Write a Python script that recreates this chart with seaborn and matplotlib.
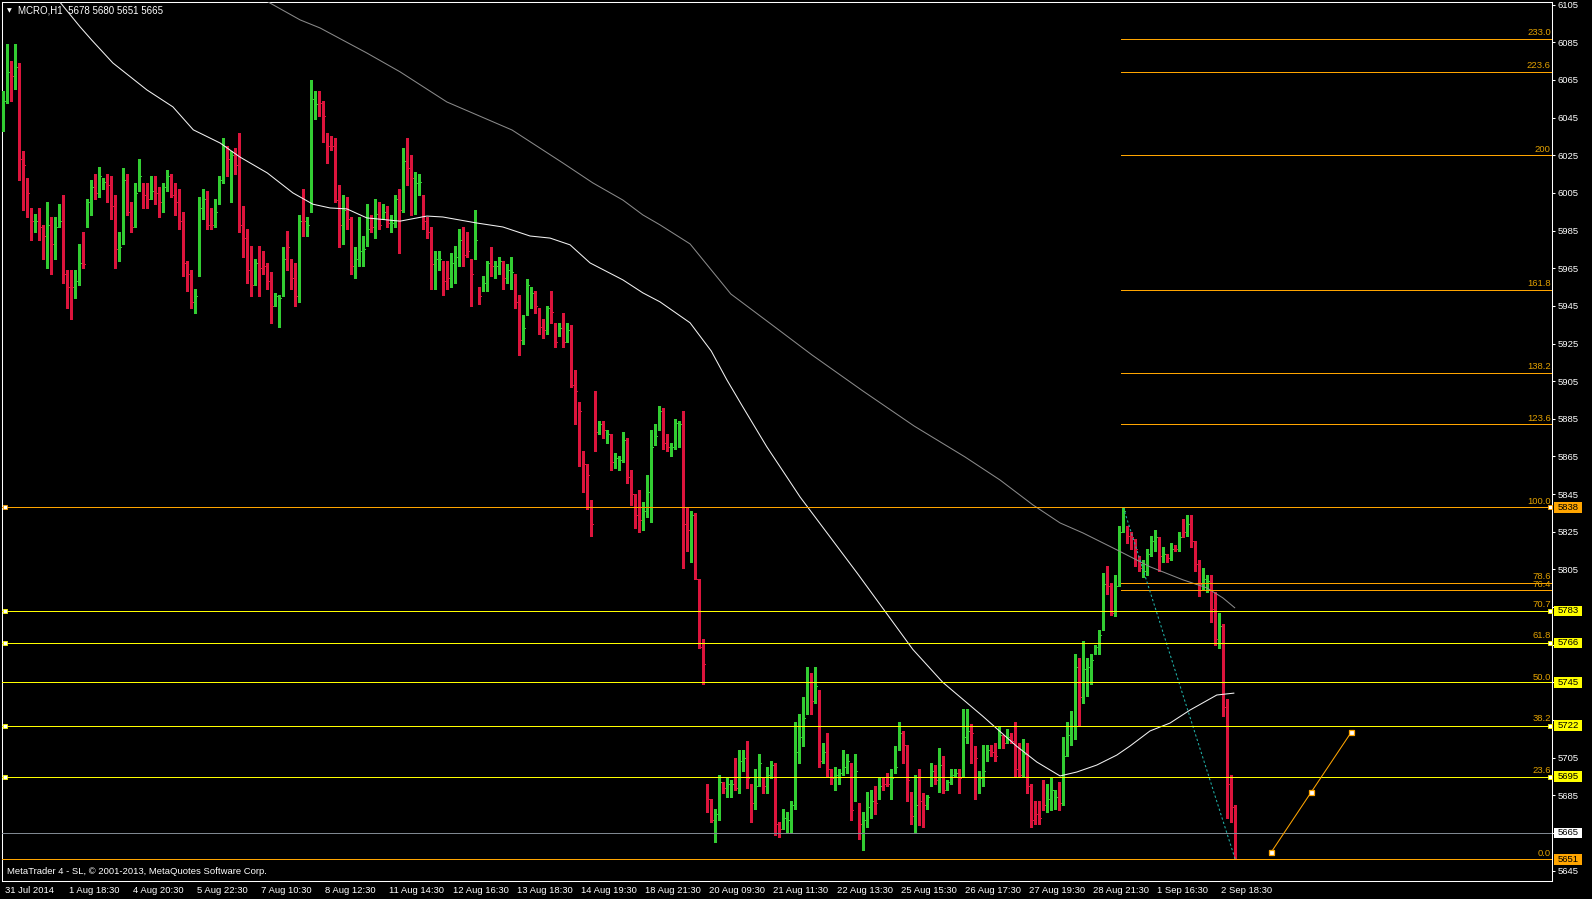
import numpy as np
import pandas as pd
import matplotlib
matplotlib.use("Agg")
import matplotlib.pyplot as plt
import matplotlib.transforms as mtransforms
from matplotlib.patches import Rectangle
import seaborn as sns

# ---------------- data (MCRO, H1) ----------------
opens = [6042,6054,6070,6067,6072,6024,6008,5994,5987,5990,
         5985,5982,5988,5976,5988,5992,5962,5958,5952,5958,
         5970,5987,5998,6008,6004,6008,6011,6009,5997,5972,
         5978,6012,5995,5988,6006,6008,6004,6003,6007,6005,
         5997,6008,6014,6006,6001,5990,5968,5960,5947,5962,
         5997,6003,5993,5988,5999,6012,6027,6016,6025,6022,
         5988,5982,5964,5957,5968,5970,5965,5958,5946,5940,
         5951,5980,5968,5962,5952,5994,5986,5995,6048,6057,
         6050,6035,6032,6029,5998,5985,5999,5990,5964,5970,
         5973,5978,5990,5988,5994,5992,5994,5986,5989,6002,
         5995,6025,6018,5997,6009,6000,5989,5984,5958,5966,
         5968,5966,5958,5962,5970,5982,5980,5969,5970,5954,
         5954,5956,5969,5963,5964,5966,5959,5960,5962,5948,
         5927,5941,5948,5948,5943,5936,5932,5945,5934,5930,
         5935,5928,5934,5905,5891,5863,5857,5840,5896,5879,
         5882,5876,5874,5861,5860,5864,5872,5856,5843,5840,
         5829,5836,5845,5872,5880,5889,5874,5868,5870,5880,
         5883,5829,5817,5833,5800,5764,5689,5682,5672,5675,
         5691,5689,5690,5694,5688,5700,5707,5684,5681,5692,
         5693,5688,5697,5700,5670,5668,5667,5672,5680,5707,
         5716,5729,5747,5735,5740,5705,5712,5697,5693,5694,
         5698,5699,5699,5684,5680,5668,5670,5679,5688,5684,
         5693,5696,5690,5698,5710,5717,5711,5684,5673,5688,
         5684,5679,5691,5697,5692,5703,5689,5692,5696,5697,
         5695,5716,5720,5708,5689,5692,5704,5710,5710,5711,
         5716,5714,5717,5716,5709,5697,5711,5689,5680,5680,
         5690,5680,5682,5681,5688,5681,5708,5713,5722,5752,
         5738,5742,5748,5761,5762,5773,5798,5796,5782,5796,
         5825,5827,5824,5820,5810,5802,5803,5813,5818,5820,
         5810,5812,5811,5817,5816,5828,5824,5831,5817,5806,
         5795,5797,5800,5786,5764,5774,5734,5690,5678]
highs = [6059,6084,6075,6084,6074,6027,6013,5997,5994,5997,
         5988,6000,5992,5992,5999,6004,5964,5964,5964,5978,
         5984,6002,6012,6015,6019,6013,6015,6014,6004,5984,
         6018,6015,6000,6010,6023,6010,6010,6014,6014,6008,
         6010,6017,6015,6010,6007,5995,5969,5964,5954,6003,
         6007,6006,5997,6002,6014,6034,6030,6027,6029,6037,
         5998,5986,5977,5970,5977,5974,5968,5963,5952,5951,
         5976,5985,5970,5968,5993,6007,5992,6065,6059,6059,
         6054,6037,6035,6034,6009,6004,6003,5992,5976,5992,
         5982,5999,5993,6002,6000,5999,5998,5993,6004,6007,
         6029,6034,6025,6016,6015,6004,5992,5987,5974,5974,
         5969,5969,5973,5977,5986,5987,5984,5970,5996,5955,
         5961,5969,5976,5969,5971,5969,5967,5971,5962,5951,
         5940,5959,5955,5953,5944,5938,5945,5953,5936,5936,
         5941,5936,5935,5911,5894,5868,5861,5842,5900,5884,
         5884,5879,5877,5867,5865,5878,5875,5858,5845,5847,
         5841,5855,5879,5882,5892,5891,5877,5872,5885,5884,
         5889,5838,5836,5835,5800,5768,5691,5683,5678,5696,
         5692,5694,5693,5705,5709,5709,5714,5691,5699,5707,
         5695,5700,5703,5702,5671,5678,5676,5682,5724,5728,
         5737,5753,5750,5753,5741,5713,5718,5699,5700,5699,
         5709,5707,5702,5707,5681,5676,5687,5688,5690,5695,
         5695,5697,5699,5711,5724,5719,5712,5687,5696,5699,
         5686,5685,5702,5701,5710,5706,5693,5699,5699,5699,
         5731,5731,5723,5711,5698,5712,5712,5712,5713,5722,
         5717,5720,5718,5724,5713,5715,5713,5691,5682,5682,
         5693,5691,5694,5688,5692,5716,5724,5730,5760,5758,
         5767,5758,5760,5765,5773,5803,5807,5798,5802,5828,
         5838,5828,5825,5821,5812,5810,5816,5823,5826,5822,
         5817,5813,5819,5818,5825,5832,5834,5834,5820,5810,
         5806,5802,5802,5793,5782,5776,5736,5696,5680]
lows = [6038,6053,6054,6060,6012,5996,5992,5980,5984,5980,
        5970,5965,5962,5970,5987,5957,5944,5938,5949,5956,
        5965,5987,5993,6002,6003,6007,6000,5991,5965,5969,
        5978,5993,5984,5987,6006,5997,5997,6002,5999,5992,
        5995,6006,6003,5993,5986,5961,5953,5944,5941,5961,
        5991,5986,5986,5987,5999,6010,6014,6000,6015,5984,
        5971,5957,5950,5956,5950,5962,5954,5936,5945,5934,
        5950,5964,5954,5945,5947,5982,5982,5995,6044,6046,
        6032,6021,6028,6000,5976,5978,5986,5962,5960,5966,
        5966,5977,5984,5981,5986,5991,5987,5984,5987,5973,
        5995,6009,5993,5994,6004,5986,5981,5954,5954,5964,
        5951,5954,5955,5957,5966,5966,5971,5945,5970,5946,
        5953,5953,5961,5960,5962,5954,5957,5954,5944,5919,
        5925,5940,5944,5941,5930,5928,5930,5936,5923,5929,
        5923,5926,5902,5882,5860,5846,5837,5823,5868,5877,
        5875,5872,5858,5859,5858,5862,5851,5839,5827,5825,
        5826,5833,5830,5871,5879,5869,5868,5865,5869,5870,
        5806,5815,5809,5800,5763,5744,5676,5671,5660,5672,
        5686,5684,5684,5688,5686,5698,5689,5671,5678,5690,
        5686,5686,5694,5664,5663,5667,5665,5665,5678,5702,
        5711,5728,5728,5734,5700,5702,5695,5691,5688,5691,
        5696,5697,5672,5682,5662,5656,5668,5673,5675,5683,
        5688,5690,5683,5697,5709,5702,5682,5670,5665,5669,
        5668,5678,5690,5691,5687,5686,5688,5691,5695,5686,
        5695,5713,5702,5683,5686,5690,5703,5706,5703,5710,
        5710,5713,5713,5695,5695,5695,5686,5668,5670,5670,
        5677,5676,5677,5678,5677,5680,5706,5712,5715,5722,
        5734,5738,5744,5760,5760,5773,5792,5781,5780,5796,
        5825,5819,5816,5807,5804,5801,5802,5812,5815,5804,
        5809,5809,5810,5815,5815,5822,5823,5817,5804,5791,
        5794,5793,5777,5765,5763,5727,5673,5671,5651]
closes = [6054,6069,6067,6072,6023,6020,6005,5990,5990,5987,
          5982,5988,5978,5987,5990,5962,5955,5955,5958,5968,
          5967,6000,6008,6005,6014,6011,6009,5998,5975,5976,
          6012,5995,5987,6005,6014,6004,6002,6006,6005,6000,
          6008,6014,6004,6000,5990,5968,5962,5947,5950,5997,
          6002,5988,5988,5995,6012,6030,6023,6025,6020,5988,
          5981,5964,5956,5968,5965,5966,5958,5945,5950,5949,
          5970,5976,5960,5950,5990,5990,5988,6055,6052,6053,
          6046,6030,6030,6001,5988,5996,5991,5966,5970,5974,
          5975,5986,5987,5994,5988,5995,5989,5989,6002,5996,
          6022,6018,6013,6010,6011,5990,5984,5967,5970,5970,
          5958,5960,5968,5971,5980,5972,5974,5962,5980,5950,
          5957,5968,5966,5966,5969,5960,5964,5963,5947,5927,
          5933,5956,5952,5945,5934,5932,5944,5942,5926,5933,
          5926,5932,5903,5900,5889,5861,5855,5829,5878,5882,
          5879,5877,5862,5864,5863,5874,5854,5845,5834,5831,
          5836,5846,5870,5876,5889,5872,5870,5870,5883,5882,
          5829,5826,5834,5800,5764,5755,5683,5672,5675,5692,
          5689,5691,5691,5689,5703,5705,5694,5681,5690,5702,
          5690,5696,5701,5670,5667,5673,5672,5680,5708,5716,
          5726,5745,5735,5743,5703,5708,5699,5694,5696,5697,
          5700,5703,5677,5698,5670,5672,5679,5682,5681,5690,
          5691,5691,5694,5700,5718,5712,5693,5674,5680,5682,
          5680,5684,5698,5693,5701,5688,5692,5696,5697,5694,
          5716,5719,5718,5705,5694,5698,5709,5708,5706,5717,
          5713,5716,5714,5699,5696,5707,5690,5672,5675,5673,
          5680,5683,5688,5684,5681,5706,5717,5722,5753,5737,
          5752,5753,5757,5764,5770,5797,5796,5782,5796,5825,
          5836,5823,5822,5816,5806,5804,5813,5820,5822,5812,
          5813,5811,5816,5816,5822,5825,5829,5820,5808,5797,
          5800,5799,5784,5768,5775,5732,5691,5679,5665]

# moving averages (bar index, price)
ma_fast_bar = [13.7, 19.2, 22.1, 27.4, 35.9, 42.4, 47.5, 54.2, 59.2, 66.0,
               72.4, 77.4, 81.7, 85.9, 90.9, 99.2, 105.9, 109.9, 118.4, 124.9,
               131.7, 136.7, 141.7, 146.7, 154.9, 159.9, 164.2, 171.7, 177.0, 180.9,
               184.9, 190.9, 195.9, 199.2, 213.5, 227.4, 234.9, 244.9, 253.4, 258.4,
               264.2, 268.4, 273.4, 278.4, 281.7, 286.7, 291.7, 296.7, 303.4, 307.7]
ma_fast_price = [6107.5, 6093.2, 6086.2, 6074.0, 6059.7, 6050.7, 6038.5, 6031.5, 6024.0, 6015.6,
                 6005.0, 5999.0, 5997.0, 5996.5, 5991.7, 5990.0, 5992.7, 5992.2, 5989.0, 5986.9,
                 5982.1, 5981.0, 5977.4, 5967.8, 5958.8, 5951.9, 5947.1, 5936.0, 5921.0, 5905.7,
                 5891.3, 5870.1, 5854.1, 5843.5, 5803.0, 5762.5, 5745.0, 5727.0, 5711.0, 5702.7,
                 5695.3, 5697.4, 5701.1, 5706.4, 5711.2, 5719.2, 5723.4, 5730.3, 5738.3, 5739.3]
ma_slow_bar = [66.2, 74.2, 79.2, 90.9, 99.2, 110.9, 127.2, 139.9, 147.4, 154.9,
               159.9, 164.2, 171.7, 181.9, 192.2, 202.2, 214.9, 227.7, 240.4, 249.2,
               257.4, 264.2, 269.9, 278.4, 286.7, 294.9, 300.9, 304.9, 307.9]
ma_slow_price = [6106.4, 6096.9, 6092.6, 6079.3, 6069.3, 6053.3, 6038.4, 6020.9, 6010.3, 6001.2,
                 5993.3, 5988.0, 5977.9, 5951.3, 5934.9, 5918.9, 5899.8, 5881.2, 5864.8, 5852.5,
                 5839.3, 5829.7, 5824.4, 5815.4, 5806.4, 5799.5, 5795.2, 5789.9, 5784.6]

x_tick_bars = [0, 16, 32, 48, 64, 80, 96, 112, 128, 144,
               160, 176, 192, 208, 224, 240, 256, 272, 288, 304]
x_tick_labels = ["31 Jul 2014", "1 Aug 18:30", "4 Aug 20:30", "5 Aug 22:30", "7 Aug 10:30",
                 "8 Aug 12:30", "11 Aug 14:30", "12 Aug 16:30", "13 Aug 18:30", "14 Aug 19:30",
                 "18 Aug 21:30", "20 Aug 09:30", "21 Aug 11:30", "22 Aug 13:30", "25 Aug 15:30",
                 "26 Aug 17:30", "27 Aug 19:30", "28 Aug 21:30", "1 Sep 16:30", "2 Sep 18:30"]
y_ticks = list(range(5645, 6106, 20))
y_ticks_hidden = [5785, 5765, 5725, 5665]   # covered by the price boxes

fib_low, fib_high = 5651, 5838
fib_bars = [280, 308]
fib_levels = [0.0, 23.6, 38.2, 50.0, 61.8, 70.7, 76.4, 78.6, 100.0, 123.6, 138.2, 161.8, 200.0, 223.6, 233.0]
fib_texts = ["0.0", "23.6", "38.2", "50.0", "61.8", "70.7", "76.4", "78.6", "100.0",
             "123.6", "138.2", "161.8", "200", "223.6", "233.0"]

yellow_lines = [5783, 5766, 5745, 5722, 5695]
yellow_marked = [True, True, False, True, True]
orange_lines = [5838, 5651]
orange_marked = [True, False]
trend_bars = [317, 327, 337]
trend_prices = [5654.8, 5686.7, 5718.5]

title_text = "MCRO,H1  5678 5680 5651 5665"
footer_text = "MetaTrader 4 - SL, \u00a9 2001-2013, MetaQuotes Software Corp."

# ---------------- style ----------------
sns.set_style("dark", {"axes.facecolor": "black", "figure.facecolor": "black"})
plt.rcParams['font.family'] = ['Liberation Sans', 'DejaVu Sans']

GREEN = '#32CD32'
RED = '#DC143C'
ORANGE = '#FFA500'
YELLOW = '#FFFF00'
FIBTXT = '#E1A000'
FS = 6.8
LW = 0.75      # vertical bar strokes
LWH = 0.55     # crisp 1 px horizontal lines

W, H = 1592, 899
fig = plt.figure(figsize=(W / 100, H / 100), dpi=100, facecolor='black')
ax = fig.add_axes([2 / W, 18 / H, 1550 / W, 879 / H])
ax.set_facecolor('black')
ax.grid(False)
XR = 387.2
ax.set_xlim(-0.325, XR)
ax.set_ylim(5639.5, 6106.4)

# ---------------- OHLC bars ----------------
o = np.array(opens, float); h = np.array(highs, float)
l = np.array(lows, float); c = np.array(closes, float)
idx = np.arange(len(c))
col = np.where(c >= o, GREEN, RED)
ax.vlines(idx, l, h, colors=col, lw=LW, antialiased=False, zorder=3)
ax.hlines(o, idx - 0.35, idx, colors=col, lw=LWH, antialiased=False, zorder=3)
ax.hlines(c, idx, idx + 0.35, colors=col, lw=LWH, antialiased=False, zorder=3)

# ---------------- moving averages ----------------
df_fast = pd.DataFrame({"bar": ma_fast_bar, "price": ma_fast_price})
df_slow = pd.DataFrame({"bar": ma_slow_bar, "price": ma_slow_price})
sns.lineplot(data=df_slow, x="bar", y="price", ax=ax, color='#8a8a8a', lw=LW,
             sort=False, estimator=None, zorder=4)
sns.lineplot(data=df_fast, x="bar", y="price", ax=ax, color='#f2f2f2', lw=LW,
             sort=False, estimator=None, zorder=4)

# ---------------- fibonacci ----------------
user_lines = yellow_lines + orange_lines
fib_prices = [fib_low + (fib_high - fib_low) * v / 100.0 for v in fib_levels]
fib_free = [p for p in fib_prices if min(abs(p - u) for u in user_lines) > 1.5]
ax.hlines(fib_free, fib_bars[0] - 0.5, XR, colors=ORANGE, lw=LWH, zorder=5,
          antialiased=False)
ytr = ax.get_yaxis_transform()
for p, t in zip(fib_prices, fib_texts):
    ax.annotate(t, xy=(0.9992, p), xycoords=ytr, xytext=(0, 1.2), textcoords='offset points',
                ha='right', va='bottom', color=FIBTXT, fontsize=FS, zorder=6)
ax.plot([fib_bars[0], fib_bars[1]], [highs[fib_bars[0]], lows[fib_bars[1]]],
        color='#20B2AA', lw=LW, ls=(0, (2.2, 2.2)), zorder=5)

# ---------------- horizontal lines ----------------
sq_x = [0.4, 386.6]
for p, m in zip(yellow_lines, yellow_marked):
    ax.axhline(p, color=YELLOW, lw=LWH, zorder=5, antialiased=False)
    if m:
        ax.plot(sq_x, [p, p], ls='none', marker='s', ms=3.4, mfc='white', mec=YELLOW,
                mew=0.6, zorder=7, clip_on=False)
for p, m in zip(orange_lines, orange_marked):
    ax.axhline(p, color=ORANGE, lw=LWH, zorder=5, antialiased=False)
    if m:
        ax.plot(sq_x, [p, p], ls='none', marker='s', ms=3.4, mfc='white', mec=ORANGE,
                mew=0.6, zorder=7, clip_on=False)
ax.axhline(closes[-1], color='#7f8790', lw=LWH, zorder=5, antialiased=False)

# trend line with anchor squares
ax.plot(trend_bars, trend_prices, color=ORANGE, lw=LW, zorder=6)
ax.plot(trend_bars, trend_prices, ls='none', marker='s', ms=3.6, mfc='white', mec=ORANGE,
        mew=0.9, zorder=7)

# ---------------- axes styling ----------------
for s in ax.spines.values():
    s.set_color('white'); s.set_linewidth(LW); s.set_visible(True)
ax.set_yticks(y_ticks)
ax.set_yticklabels(["" if t in y_ticks_hidden else str(t) for t in y_ticks])
ax.yaxis.tick_right()
ax.tick_params(axis='y', colors='white', length=2.5, width=LW, pad=1.6, labelsize=FS,
               direction='out', left=False, right=True, labelleft=False, labelright=True)
ax.set_xticks(x_tick_bars)
ax.set_xticklabels(x_tick_labels, ha='left')
ax.tick_params(axis='x', colors='white', length=2.5, width=LW, pad=0.8, labelsize=FS,
               direction='out')
off = mtransforms.ScaledTranslation(1.5 / 100, 0, fig.dpi_scale_trans)
for lab in ax.get_xticklabels():
    lab.set_transform(lab.get_transform() + off)
ax.set_xlabel(""); ax.set_ylabel("")

# price boxes on the price scale
box_vals = [5838, 5783, 5766, 5745, 5722, 5695, closes[-1], 5651]
box_cols = [ORANGE, YELLOW, YELLOW, YELLOW, YELLOW, YELLOW, 'white', ORANGE]
bh = 10.5 / 1.8826
for v, bc in zip(box_vals, box_cols):
    ax.add_patch(Rectangle((1 + 2 / 1550, v - bh / 2), 28 / 1550, bh, transform=ytr,
                           facecolor=bc, edgecolor='none', clip_on=False, zorder=8))
    ax.text(1 + 5.5 / 1550, v, f"{int(v)}", transform=ytr, ha='left', va='center',
            color='black', fontsize=FS, zorder=9, clip_on=False)

# ---------------- header / footer ----------------
fig.text(6.5 / W, 1 - 10.8 / H, "\u25bc", color='white', fontsize=4.5, va='center',
         family=['DejaVu Sans'])
fig.text(18 / W, 1 - 10.8 / H, title_text, color='white', fontsize=FS + 0.2, va='center')
fig.text(7 / W, 1 - 871 / H, footer_text, color='white', fontsize=FS, va='center')

fig.savefig("out.png", dpi=100, facecolor='black')
